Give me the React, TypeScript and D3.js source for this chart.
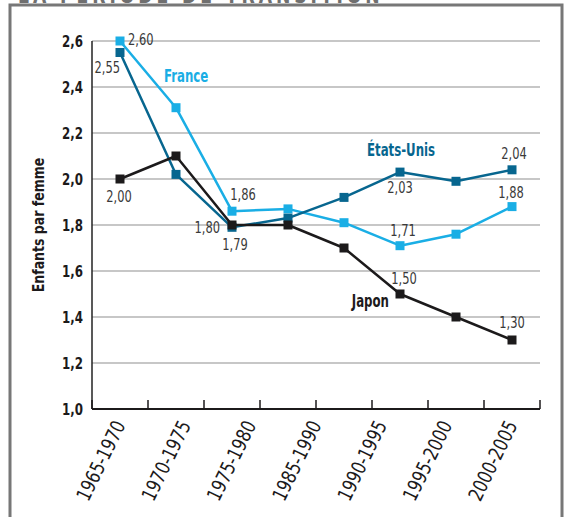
import React from "react";
import * as d3 from "d3";

const periods = [
  "1965-1970",
  "1970-1975",
  "1975-1980",
  "1980-1985",
  "1985-1990",
  "1990-1995",
  "1995-2000",
  "2000-2005",
];
// the printed axis only carries seven labels
const periodLabels = [
  "1965-1970",
  "1970-1975",
  "1975-1980",
  "1985-1990",
  "1990-1995",
  "1995-2000",
  "2000-2005",
];
const yTicks = [1.0, 1.2, 1.4, 1.6, 1.8, 2.0, 2.2, 2.4, 2.6];

const france = [2.6, 2.31, 1.86, 1.87, 1.81, 1.71, 1.76, 1.88];
const etatsUnis = [2.55, 2.02, 1.79, 1.83, 1.92, 2.03, 1.99, 2.04];
const japon = [2.0, 2.1, 1.8, 1.8, 1.7, 1.5, 1.4, 1.3];

const title = "LA PÉRIODE DE TRANSITION";
const yTitle = "Enfants par femme";

const FONT = "'Liberation Sans Narrow', 'DejaVu Sans Condensed', 'Roboto', sans-serif";

const series = [
  { name: "France", values: france, color: "#1aaee5" },
  { name: "États-Unis", values: etatsUnis, color: "#07668f" },
  { name: "Japon", values: japon, color: "#1c1a1b" },
];

// value annotations: [series, index, dx, dy, anchor]
const valueNotes: [number, number, number, number, string][] = [
  [0, 0, 8, 4, "start"],
  [1, 0, 0, 20, "end"],
  [2, 0, -1, 23, "middle"],
  [0, 2, 11, -11, "middle"],
  [2, 2, -12, 8, "end"],
  [1, 2, 3, 23, "middle"],
  [1, 5, 0, 21, "middle"],
  [1, 7, 2, -11, "middle"],
  [0, 5, 3, -10, "middle"],
  [0, 7, -1, -9, "middle"],
  [2, 5, 4, -10, "middle"],
  [2, 7, 0, -12, "middle"],
];
// series names: [series, index, dx, dy, anchor]
const nameNotes: [number, number, number, number, string][] = [
  [0, 1, -12, -26, "start"],
  [1, 5, -33, -16, "start"],
  [2, 5, -11, 13, "end"],
];

// narrow the available fonts towards the printed condensed face
const squeeze = (x: number, y: number, sx: number, rot = 0) =>
  `translate(${x},${y}) rotate(${rot}) scale(${sx},1)`;

class App extends React.Component {
  ref = React.createRef<SVGSVGElement>();

  componentDidMount() {
    const width = 566;
    const height = 517;
    const margin = { top: 41, right: 26, bottom: 108, left: 92 };

    const svg = d3.select(this.ref.current);
    svg.selectAll("*").remove();
    svg.attr("font-family", FONT);

    const x = d3
      .scaleBand()
      .domain(periods)
      .range([margin.left, width - margin.right]);
    const bw = x.bandwidth();
    const cx = (i: number) => (x(periods[i]) as number) + bw / 2;

    const y = d3
      .scaleLinear()
      .domain([1.0, 2.6])
      .range([height - margin.bottom, margin.top]);

    const xl = d3
      .scalePoint()
      .domain(periodLabels)
      .range([cx(0), cx(periods.length - 1)]);

    // frame + heading cut by the page top
    svg
      .append("text")
      .attr("transform", squeeze(18, 3, 0.87))
      .attr("fill", "#6f6f6f")
      .attr("font-size", 22)
      .attr("font-weight", "bold")
      .attr("letter-spacing", 4.5)
      .text(title);
    svg
      .append("rect")
      .attr("x", 10)
      .attr("y", 5)
      .attr("width", 552)
      .attr("height", 530)
      .attr("fill", "none")
      .attr("stroke", "#777")
      .attr("stroke-width", 3);

    // grid
    svg
      .append("g")
      .selectAll("line")
      .data(yTicks.slice(1))
      .join("line")
      .attr("x1", margin.left)
      .attr("x2", width - margin.right)
      .attr("y1", (d) => y(d))
      .attr("y2", (d) => y(d))
      .attr("stroke", "#b4b4b4")
      .attr("stroke-width", 1.5);

    // y axis
    svg
      .append("line")
      .attr("x1", margin.left)
      .attr("x2", margin.left)
      .attr("y1", y(2.6))
      .attr("y2", y(1.0))
      .attr("stroke", "#222")
      .attr("stroke-width", 1.5);
    svg
      .append("g")
      .selectAll("text")
      .data(yTicks)
      .join("text")
      .attr("transform", (d) => squeeze(margin.left - 9, y(d) + 5.5, 0.85))
      .attr("text-anchor", "end")
      .attr("font-size", 15.5)
      .attr("font-weight", "bold")
      .attr("fill", "#1c1a1b")
      .text((d) => d3.format(".1f")(d).replace(".", ","));
    svg
      .append("text")
      .attr("transform", squeeze(44, y(1.8), 0.87, -90))
      .attr("text-anchor", "middle")
      .attr("font-size", 16)
      .attr("font-weight", "bold")
      .attr("fill", "#1c1a1b")
      .text(yTitle);

    // x axis
    const xb = y(1.0);
    svg
      .append("line")
      .attr("x1", margin.left)
      .attr("x2", width - margin.right)
      .attr("y1", xb)
      .attr("y2", xb)
      .attr("stroke", "#1c1a1b")
      .attr("stroke-width", 2);
    svg
      .append("g")
      .selectAll("line")
      .data([...periods.map((p) => x(p) as number), width - margin.right])
      .join("line")
      .attr("x1", (d) => d)
      .attr("x2", (d) => d)
      .attr("y1", xb)
      .attr("y2", xb - 9)
      .attr("stroke", "#1c1a1b")
      .attr("stroke-width", 1.5);
    svg
      .append("g")
      .selectAll("text")
      .data(periodLabels)
      .join("text")
      .attr("transform", (d) => squeeze((xl(d) as number) + 6, xb + 16, 0.88, -64))
      .attr("text-anchor", "end")
      .attr("font-size", 20)
      .attr("fill", "#1c1a1b")
      .text((d) => d);

    // lines and markers
    const line = d3
      .line<number>()
      .x((d, i) => cx(i))
      .y((d) => y(d));
    series.forEach((s) => {
      const g = svg.append("g");
      g.append("path")
        .datum(s.values)
        .attr("fill", "none")
        .attr("stroke", s.color)
        .attr("stroke-width", 2.5)
        .attr("stroke-linejoin", "round")
        .attr("d", line);
      g.selectAll("rect")
        .data(s.values)
        .join("rect")
        .attr("x", (d, i) => cx(i) - 4.5)
        .attr("y", (d) => y(d) - 4.5)
        .attr("width", 9)
        .attr("height", 9)
        .attr("fill", s.color);
    });

    // annotations
    svg
      .append("g")
      .selectAll("text")
      .data(valueNotes)
      .join("text")
      .attr("transform", (n) =>
        squeeze(cx(n[1]) + n[2], y(series[n[0]].values[n[1]]) + n[3], 0.85)
      )
      .attr("text-anchor", (n) => n[4])
      .attr("font-size", 15)
      .attr("fill", "#3a3a3a")
      .text((n) => d3.format(".2f")(series[n[0]].values[n[1]]).replace(".", ","));
    svg
      .append("g")
      .selectAll("text")
      .data(nameNotes)
      .join("text")
      .attr("transform", (n) =>
        squeeze(cx(n[1]) + n[2], y(series[n[0]].values[n[1]]) + n[3], 0.77)
      )
      .attr("text-anchor", (n) => n[4])
      .attr("font-size", 17)
      .attr("font-weight", "bold")
      .attr("fill", (n) => series[n[0]].color)
      .text((n) => series[n[0]].name);
  }

  render() {
    return (
      <svg
        ref={this.ref}
        width={566}
        height={517}
        style={{ position: "absolute", left: 0, top: 0, background: "#fff" }}
      />
    );
  }
}

export default App;
